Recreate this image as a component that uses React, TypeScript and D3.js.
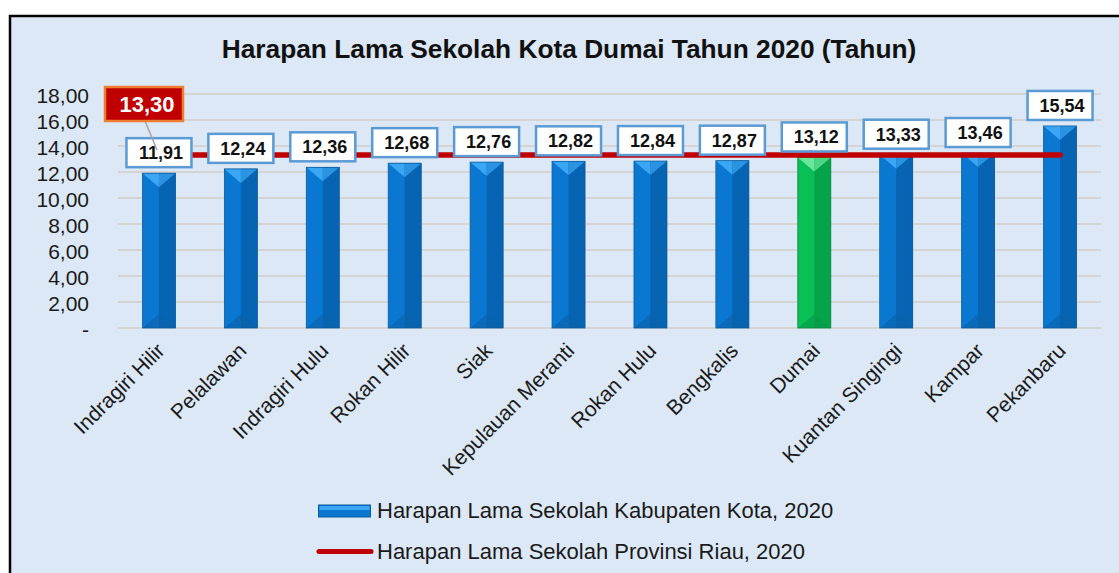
import React from "react";
import * as d3 from "d3";

const categories = [
  "Indragiri Hilir", "Pelalawan", "Indragiri Hulu", "Rokan Hilir", "Siak",
  "Kepulauan Meranti", "Rokan Hulu", "Bengkalis", "Dumai", "Kuantan Singingi",
  "Kampar", "Pekanbaru",
];
const kabValues = [11.91, 12.24, 12.36, 12.68, 12.76, 12.82, 12.84, 12.87, 13.12, 13.33, 13.46, 15.54];
const provValue = 13.3;
const highlight = "Dumai";
const yTicks = [0, 2, 4, 6, 8, 10, 12, 14, 16, 18];
const title = "Harapan Lama Sekolah Kota Dumai Tahun 2020 (Tahun)";
const legendLabels = [
  "Harapan Lama Sekolah Kabupaten Kota, 2020",
  "Harapan Lama Sekolah Provinsi Riau, 2020",
];

const FONT = "'Liberation Sans', Arial, sans-serif";
const fmt = (v: number) => (v === 0 ? "-" : v.toFixed(2).replace(".", ","));

export default function App() {
  const W = 1119, H = 573;
  const x = d3.scaleBand<string>().domain(categories).range([118, 1101]).paddingInner(0).paddingOuter(0);
  const y = d3.scaleLinear().domain([0, 18]).range([328, 94]);
  const bw = 33;
  const bevel = 14;

  const blue = { main: "#0a78d1", dark: "#0664b2", top: "#3aa6f4", topR: "#2b93e2", bot: "#0a60a8", edge: "#0b5c9e" };
  const green = { main: "#08c056", dark: "#06a449", top: "#6ae79c", topR: "#4fd685", bot: "#07994a", edge: "#078a40" };

  const cx = (c: string) => (x(c) as number) + x.bandwidth() / 2;
  const lineY = y(provValue);

  return (
    <svg width={W} height={H} style={{ position: "absolute", left: 0, top: 0 }} fontFamily={FONT}>
      <rect x={0} y={0} width={W} height={H} fill="#ffffff" />
      <rect x={10} y={16} width={W + 20} height={H + 20} fill="#dce8f5" stroke="#000" strokeWidth={2.5} />
      <text x={569} y={58} textAnchor="middle" fontSize={26.3} fontWeight="bold" fill="#111">{title}</text>

      {yTicks.map((t) => (
        <g key={t}>
          <line x1={118} x2={1101} y1={y(t)} y2={y(t)} stroke="#d4d4d4" strokeWidth={2} />
          <text x={89} y={y(t) + 9} textAnchor="end" fontSize={21} fill="#1a1a1a">{fmt(t)}</text>
        </g>
      ))}

      {categories.map((c, i) => {
        const v = kabValues[i];
        const col = c === highlight ? green : blue;
        const xc = cx(c);
        const x0 = xc - bw / 2, x1 = xc + bw / 2;
        const yt = y(v), yb = y(0);
        return (
          <g key={c}>
            <rect x={x0} y={yt} width={bw} height={yb - yt} fill={col.main} />
            <rect x={xc} y={yt} width={bw / 2} height={yb - yt} fill={col.dark} />
            <polygon points={`${x0},${yb} ${x1},${yb} ${xc},${yb - bevel}`} fill={col.bot} opacity={0.6} />
            <polygon points={`${x0},${yt} ${xc},${yt} ${xc},${yt + bevel}`} fill={col.top} />
            <polygon points={`${xc},${yt} ${x1},${yt} ${xc},${yt + bevel}`} fill={col.topR} />
            <rect x={x0} y={yt} width={bw} height={yb - yt} fill="none" stroke={col.edge} strokeWidth={0.8} />
          </g>
        );
      })}

      <line x1={cx(categories[0])} x2={cx(categories[categories.length - 1])} y1={lineY} y2={lineY}
        stroke="#c00000" strokeWidth={5.5} strokeLinecap="round" />

      {categories.map((c, i) => {
        const v = kabValues[i];
        const xc = cx(c);
        const bb = y(v) - 6;
        return (
          <g key={"l" + c}>
            <rect x={xc - 32.5} y={bb - 29} width={65} height={29} fill="#fff" stroke="#5b9bd5" strokeWidth={2.5} />
            <text x={xc + 2} y={bb - 8} textAnchor="middle" fontSize={18} fontWeight="bold" fill="#111">{fmt(v)}</text>
          </g>
        );
      })}

      <line x1={145} y1={121} x2={157} y2={150} stroke="#a6a6a6" strokeWidth={1.5} />
      <rect x={105} y={87} width={78} height={34} fill="#c00000" stroke="#ed7d31" strokeWidth={2.5} />
      <text x={147} y={112} textAnchor="middle" fontSize={22} fontWeight="bold" fill="#fff">{fmt(provValue)}</text>

      {categories.map((c) => (
        <text key={"c" + c} transform={`translate(${cx(c) + 7},${352}) rotate(-45)`} textAnchor="end"
          fontSize={21} fill="#1a1a1a">{c}</text>
      ))}

      <g>
        <rect x={318.5} y={505} width={52} height={12} fill={blue.main} stroke={blue.edge} strokeWidth={1} />
        <rect x={319.5} y={506} width={50} height={4} fill={blue.top} />
        <text x={377} y={518} fontSize={22} fill="#1a1a1a">{legendLabels[0]}</text>
        <line x1={319} x2={371} y1={551.5} y2={551.5} stroke="#c00000" strokeWidth={5} strokeLinecap="round" />
        <text x={377} y={558.5} fontSize={22} fill="#1a1a1a">{legendLabels[1]}</text>
      </g>
    </svg>
  );
}
